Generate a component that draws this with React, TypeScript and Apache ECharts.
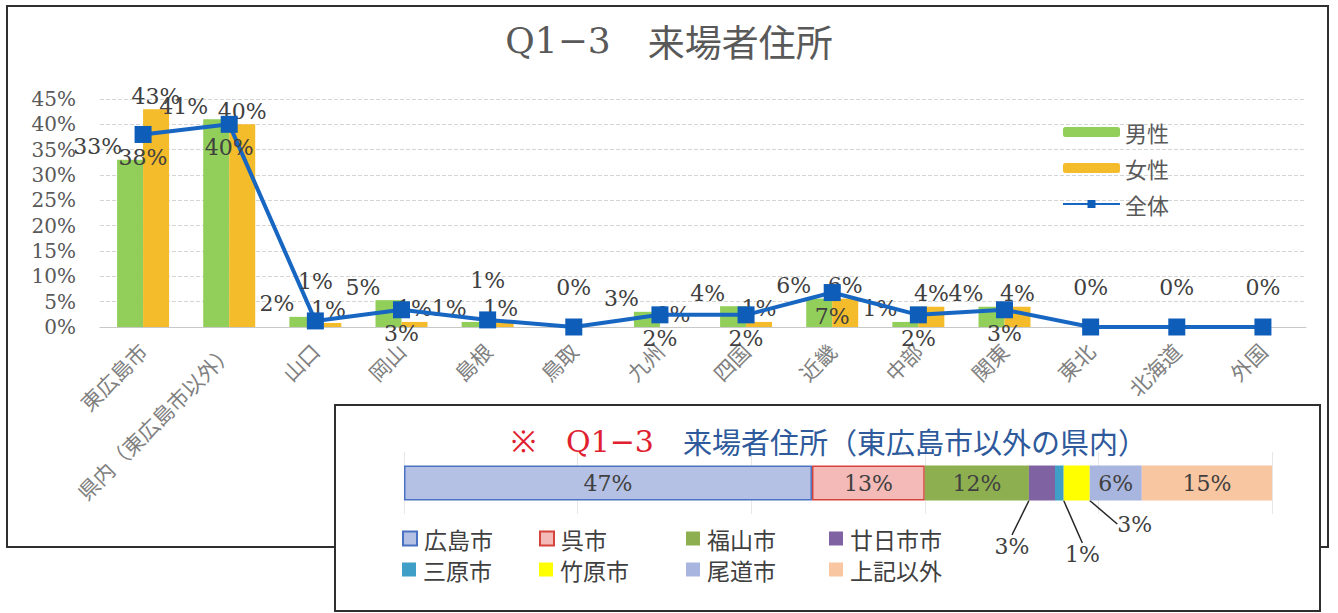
import React, { useEffect, useRef } from 'react';
import * as echarts from 'echarts';

// ---- main chart data ----
const categories = ['東広島市', '県内（東広島市以外）', '山口', '岡山', '島根', '鳥取', '九州', '四国', '近畿', '中部', '関東', '東北', '北海道', '外国'];
const maleShare = [0.33, 0.41, 0.02, 0.053, 0.01, null, 0.03, 0.041, 0.056, 0.01, 0.04, null, null, null];
const femaleShare = [0.43, 0.40, 0.008, 0.01, 0.01, null, 0, 0.01, 0.056, 0.04, 0.04, null, null, null];
const totalShare = [0.38, 0.40, 0.012, 0.034, 0.014, 0, 0.024, 0.024, 0.068, 0.024, 0.034, 0, 0, 0];
const yMax = 0.45;
const yStep = 0.05;

// ---- inset data ----
const cityNames = ['広島市', '呉市', '福山市', '廿日市市', '三原市', '竹原市', '尾道市', '上記以外'];
const cityShare = [47, 13, 12, 3, 1, 3, 6, 15];

const cityFill = ['#B4C0E4', '#F3BAB8', '#8EAF50', '#7F62A2', '#3F9FC6', '#FFFF00', '#A8B5DE', '#F8C6A0'];
const cityBorder = ['#4A72C2', '#D5433D', null, null, null, null, null, null];
const legendPos = [
  [402, 527], [539, 527], [686, 527], [829, 527],
  [402, 558], [539, 558], [686, 558], [829, 558],
];
const movedLabel: Record<string, { dx: number; dy: number }> = {
  '廿日市市': { dx: -30, dy: 63 },
  '三原市': { dx: 23, dy: 71 },
  '竹原市': { dx: 58, dy: 41 },
};

const SERIF = '"DejaVu Serif", "Liberation Serif", serif';
const SANS = '"Noto Sans CJK JP", "Noto Sans", sans-serif';
const pct = (p: any) => (p.value == null ? '' : Math.round(p.value * 100) + '%');

export default function App() {
  const ref = useRef<HTMLDivElement>(null);
  useEffect(() => {
    if (!ref.current) return;
    const chart = echarts.init(ref.current, null, { renderer: 'svg' });
    const dataLabel = {
      show: true,
      formatter: pct,
      fontFamily: SERIF,
      fontSize: 22,
      color: '#404040',
    };
    const citySeries = cityNames.map((name, i) => {
      const moved = movedLabel[name];
      const s: any = {
        name,
        type: 'bar',
        stack: 'city',
        xAxisIndex: 1,
        yAxisIndex: 1,
        barWidth: 35,
        z: 3,
        data: [cityShare[i]],
        itemStyle: {
          color: cityFill[i],
          borderColor: cityBorder[i] || cityFill[i],
          borderWidth: cityBorder[i] ? 1.5 : 0,
        },
        label: {
          show: true,
          position: 'inside',
          formatter: '{c}%',
          fontFamily: SERIF,
          fontSize: 22,
          color: '#404040',
        },
      };
      if (moved) {
        s.labelLayout = { dx: moved.dx, dy: moved.dy };
        s.labelLine = { show: true, lineStyle: { color: '#262626', width: 1.5 } };
      }
      return s;
    });
    const cityLegends = cityNames.map((name, i) => ({
      data: [{ name, icon: 'rect' }],
      left: legendPos[i][0],
      top: legendPos[i][1],
      padding: 0,
      itemWidth: 14,
      itemHeight: 14,
      itemGap: 0,
      selectedMode: false,
      textStyle: { fontFamily: SANS, fontSize: 23, color: '#404040', padding: [0, 0, 0, 2] },
    }));

    const option: any = {
      animation: false,
      backgroundColor: '#ffffff',
      title: {
        text: '{q|Q1−3}{j|　来場者住所}',
        left: 'center',
        top: 17,
        textStyle: {
          rich: {
            q: { fontFamily: SERIF, fontSize: 36, color: '#595959', fontWeight: 'normal' },
            j: { fontFamily: SANS, fontSize: 37, color: '#595959', fontWeight: 'normal' },
          },
        },
      },
      legend: [
        {
          data: ['男性', '女性', '全体'],
          orient: 'vertical',
          left: 1062,
          top: 121,
          padding: 0,
          itemWidth: 57,
          itemHeight: 10,
          itemGap: 14,
          selectedMode: false,
          textStyle: { fontFamily: SANS, fontSize: 22, color: '#595959' },
        },
        ...cityLegends,
      ],
      grid: [
        { left: 100, top: 99, width: 1206, height: 228 },
        { left: 404, top: 452, width: 868, height: 62 },
      ],
      xAxis: [
        {
          type: 'category',
          gridIndex: 0,
          data: categories,
          axisTick: { show: false },
          axisLine: { show: true, lineStyle: { color: '#c8c8c8', width: 1 } },
          axisLabel: {
            interval: 0,
            rotate: 45,
            margin: 20,
            fontFamily: SANS,
            fontSize: 21,
            color: '#808080',
          },
        },
        {
          type: 'value',
          gridIndex: 1,
          min: 0,
          max: 100,
          interval: 20,
          z: 2,
          axisLine: { show: false },
          axisTick: { show: false },
          axisLabel: { show: false },
          splitLine: { show: true, lineStyle: { color: '#e8e8e8', width: 1 } },
        },
      ],
      yAxis: [
        {
          type: 'value',
          gridIndex: 0,
          min: 0,
          max: yMax,
          interval: yStep,
          axisLine: { show: false },
          axisTick: { show: false },
          axisLabel: {
            formatter: (v: number) => Math.round(v * 100) + '%',
            fontFamily: SERIF,
            fontSize: 20,
            color: '#595959',
            margin: 24,
          },
          splitLine: { lineStyle: { color: '#d4d4d4', type: [4, 2], width: 1 } },
        },
        {
          type: 'category',
          gridIndex: 1,
          data: ['県内'],
          show: false,
        },
      ],
      graphic: [
        {
          type: 'rect',
          z: 0,
          shape: { x: 7, y: 6, width: 1321, height: 541 },
          style: { fill: 'none', stroke: '#2f2f2f', lineWidth: 2 },
        },
        {
          type: 'rect',
          z: 1,
          shape: { x: 335, y: 405, width: 985, height: 206 },
          style: { fill: '#ffffff', stroke: '#2f2f2f', lineWidth: 2 },
        },
        {
          type: 'text',
          z: 5,
          x: 829,
          y: 441,
          style: {
            text: '{r|※　Q1−3}{b|　来場者住所（東広島市以外の県内）}',
            align: 'center',
            verticalAlign: 'middle',
            rich: {
              r: { fill: '#E0202E', fontFamily: SERIF, fontSize: 30 },
              b: { fill: '#2E5A9C', fontFamily: SANS, fontSize: 29 },
            },
          },
        },
      ],
      series: [
        {
          name: '男性',
          type: 'bar',
          xAxisIndex: 0,
          yAxisIndex: 0,
          barWidth: 26,
          barGap: '0%',
          data: maleShare,
          itemStyle: { color: '#92CF5A' },
          label: { ...dataLabel, position: [5, -2], align: 'right', verticalAlign: 'bottom' },
        },
        {
          name: '女性',
          type: 'bar',
          xAxisIndex: 0,
          yAxisIndex: 0,
          barWidth: 26,
          barGap: '0%',
          data: femaleShare,
          itemStyle: { color: '#F4BB2A' },
          label: { ...dataLabel, position: 'top', distance: 2 },
        },
        {
          name: '全体',
          type: 'line',
          xAxisIndex: 0,
          yAxisIndex: 0,
          z: 3,
          data: totalShare.map((v) => ({
            value: v,
            label: v >= 0.02 ? { position: 'bottom', distance: 4 } : { position: 'top', distance: 20 },
          })),
          symbol: 'rect',
          symbolSize: 17,
          lineStyle: { color: '#1766C2', width: 4 },
          itemStyle: { color: '#0E5DB8' },
          label: { ...dataLabel },
        },
        ...citySeries,
      ],
    };
    chart.setOption(option);
    return () => chart.dispose();
  }, []);
  return (
    <div
      ref={ref}
      style={{ position: 'fixed', left: 0, top: 0, width: 1338, height: 613, background: '#fff' }}
    />
  );
}
